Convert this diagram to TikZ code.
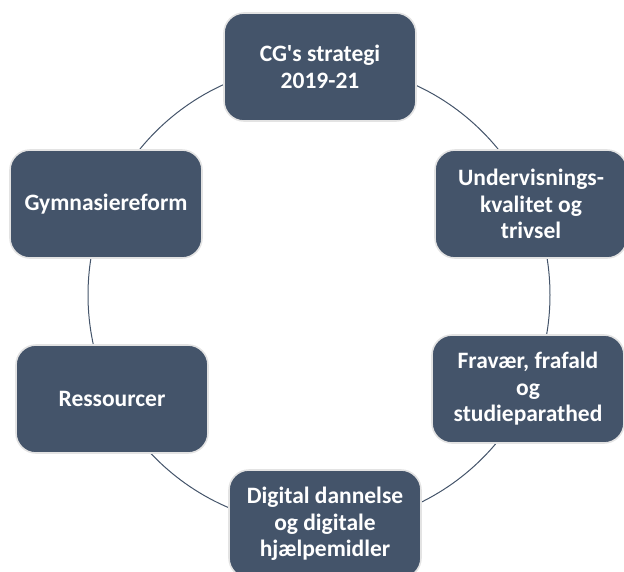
\documentclass[tikz,border=0pt]{standalone}
\usepackage{fontspec}
\newfontfamily\carl{Carlito}
\definecolor{slate}{HTML}{44546A}
\definecolor{rim}{HTML}{E3E3E3}
\begin{document}
\begin{tikzpicture}[x=1pt,y=-1pt,
  box/.style={draw=rim, line width=1.6pt, fill=slate, rounded corners=20pt,
    minimum width=192pt, minimum height=108pt, text=white, align=center,
    inner sep=0pt, font=\carl\bfseries\fontsize{23.5}{26.5}\selectfont},
  ring/.style={draw=slate, line width=1pt}]
\useasboundingbox (0,0) rectangle (624,571);
\clip (0,0) rectangle (624,571);
\coordinate (ctr) at (319,295);
\draw[ring] (ctr) circle[radius=231pt];
\node[box] (top) at (320,67) {CG's strategi\\2019-21};
\node[box] (rt) at (531,204) {Undervisnings-\\kvalitet og\\trivsel};
\node[box] (rb) at (528,389) {Fravær, frafald\\og\\studieparathed};
\node[box] (bot) at (325,524) {Digital dannelse\\og digitale\\hjælpemidler};
\node[box] (lb) at (112,399) {Ressourcer};
\node[box] (lt) at (106,204) {Gymnasiereform};
\end{tikzpicture}
\end{document}
